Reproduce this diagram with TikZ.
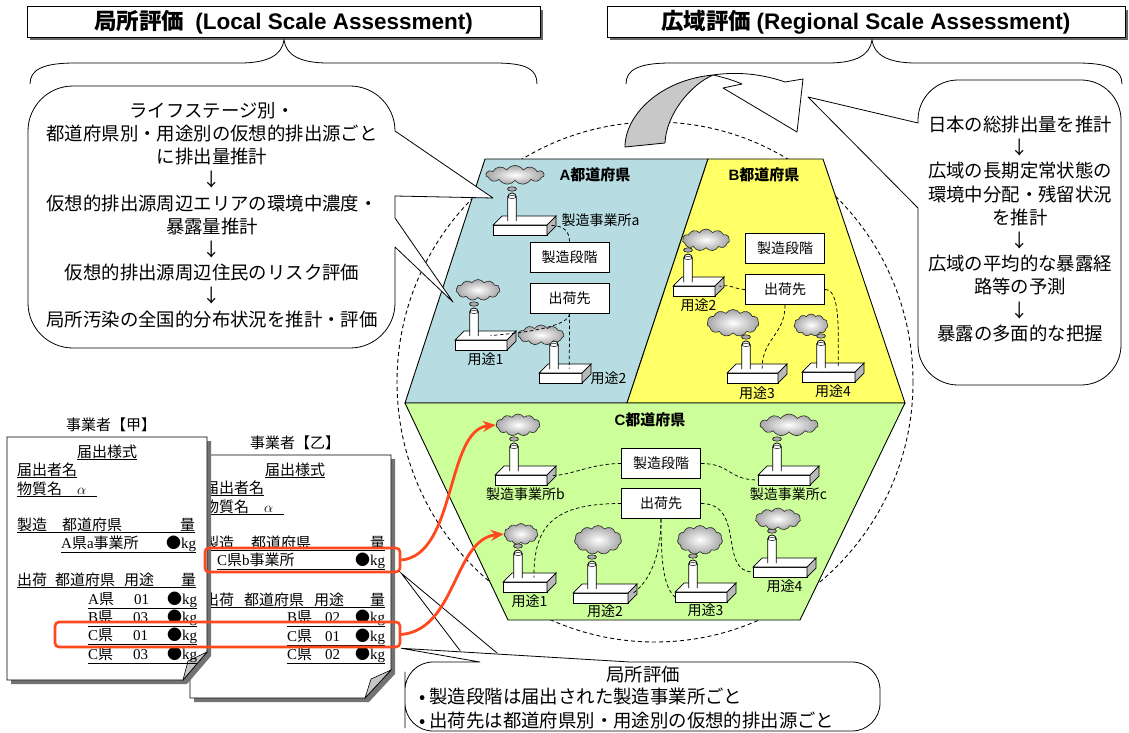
\documentclass[tikz,border=0pt]{standalone}
\usepackage{fontspec}
\setmainfont{Noto Sans CJK JP}
\newfontfamily\arialfont{Liberation Sans}
\newfontfamily\timesfont{Liberation Serif}
\usepackage{tikz}
\usetikzlibrary{positioning, shapes.symbols, arrows.meta, shadows}

\definecolor{prefA}{RGB}{183,221,226}
\definecolor{prefB}{RGB}{255,255,102}
\definecolor{prefC}{RGB}{204,255,153}
\definecolor{hlred}{RGB}{255,72,30}
\definecolor{bend}{RGB}{200,200,200}

\newcommand{\ltn}[1]{{\timesfont #1}}
\newcommand{\kg}{●\ltn{kg}}

% factory icon: block, stack, puff and smoke cloud
\tikzset{
  plant w/.store in=\plantw, plant w=54,
  stack x/.store in=\stackx, stack x=19,
  smoke dx/.store in=\smokedx, smoke dx=0,
  smoke dy/.store in=\smokedy, smoke dy=0,
  smoke w/.store in=\smokew, smoke w=48pt,
  smoke h/.store in=\smokeh, smoke h=22pt,
  smoke/.style={cloud, cloud puffs=11, cloud puff arc=115, aspect=2.2,
                draw=black!85, line width=0.6pt,
                inner color=white, outer color=gray!70, inner sep=0pt},
  pics/plant/.style={code={
    \draw[fill=white, line width=0.7pt] (0,0) rectangle (\plantw,-10);
    \draw[fill=white, line width=0.7pt] (0,-10) -- (\plantw,-10) -- (\plantw+9,-19) -- (9,-19) -- cycle;
    \draw[fill=gray!55, line width=0.7pt] (\plantw,0) -- (\plantw+9,-9) -- (\plantw+9,-19) -- (\plantw,-10) -- cycle;
    \draw[fill=white, line width=0.8pt, rounded corners=4pt]
      (\stackx-4.2,-14) -- (\stackx-4.2,-42) -- (\stackx+4.2,-42) -- (\stackx+4.2,-14);
    \draw[line width=0.5pt] (\stackx,-38) ellipse[x radius=4.2, y radius=1.5];
    \draw[fill=gray!65, line width=0.5pt] (\stackx,-46) ellipse[x radius=4.5, y radius=2.2];
    \node[smoke, minimum width=\smokew, minimum height=\smokeh] (-cloud)
      at (\stackx+\smokedx,-60+\smokedy) {};
    \coordinate (-e) at (\plantw+4.5,-9.5);
    \coordinate (-w) at (0,-5);
    \coordinate (-t) at ({0.6*\plantw+4.5},-14.5);
    \coordinate (-s) at ({(\plantw+9)/2},0);
  }},
}

\begin{document}
\begin{tikzpicture}[x=1pt, y=-1pt,
    titlebox/.style={draw, fill=white, line width=1pt, minimum height=26pt,
                     font=\fontsize{22.5}{26}\selectfont\bfseries,
                     drop shadow={fill=black!60, opacity=1, shadow xshift=3pt, shadow yshift=-3pt}},
    brace/.style={line width=0.8pt},
    callout/.style={draw, fill=white, line width=0.8pt, line join=round},
    note/.style={align=center, font=\fontsize{18.4}{23.2}\selectfont, inner sep=0pt},
    pref/.style={draw, line width=0.9pt},
    preflabel/.style={font=\fontsize{15}{17}\selectfont\bfseries, inner sep=0pt},
    stage/.style={draw, fill=white, line width=1pt, minimum width=79pt, minimum height=30pt,
                  font=\fontsize{14}{16}\selectfont},
    tag/.style={font=\fontsize{14}{16}\selectfont, inner sep=1pt},
    link/.style={dash pattern=on 3.5pt off 2.5pt, line width=0.75pt},
    area/.style={dash pattern=on 4pt off 3pt, line width=0.9pt},
    bendarrow/.style={draw, line width=0.8pt, line join=round},
    sheet/.style={draw, fill=white, line width=0.8pt},
    formtxt/.style={font=\fontsize{15}{17}\selectfont, inner sep=0pt, anchor=base west},
    formhead/.style={font=\fontsize{15}{17}\selectfont, inner sep=0pt},
    hl/.style={draw=hlred, line width=2.6pt, rounded corners=4pt, inner sep=0pt},
    hlarrow/.style={hlred, line width=2.8pt, -{Stealth[length=13pt,width=11pt]}},
  ]
  \path[use as bounding box, fill=white] (0,0) rectangle (1129,733);

  % regional area
  \draw[area] (655,382) ellipse[x radius=258, y radius=260];

  \draw[pref, fill=prefA] (485,159) -- (708,159) -- (627,403) -- (405,403) -- cycle;
  \draw[pref, fill=prefB] (708,159) -- (823,159) -- (905,403) -- (627,403) -- cycle;
  \draw[pref, fill=prefC] (405,403) -- (905,403) -- (800,620) -- (508,620) -- cycle;

  \node[preflabel] (lab-a) at (595,175) {{\arialfont A}都道府県};
  \node[preflabel] (lab-b) at (764,175) {{\arialfont B}都道府県};
  \node[preflabel] (lab-c) at (650,420) {{\arialfont C}都道府県};

  % stages
  \node[stage] (a-mfg) at (569.5,257) {製造段階};
  \node[stage] (a-ship) [below=10pt of a-mfg] {出荷先};
  \node[stage] (b-mfg) at (785,248.5) {製造段階};
  \node[stage] (b-ship) [below=10pt of b-mfg] {出荷先};
  \node[stage] (c-mfg) at (661,463.5) {製造段階};
  \node[stage] (c-ship) [below=9pt of c-mfg] {出荷先};

  % plants, prefecture A
  \pic[smoke dx=3, smoke w=58pt, smoke h=19pt] (pa) at (493,235) {plant};
  \pic[plant w=52, smoke dx=4, smoke w=44pt, smoke h=21pt] (pa1) at (455,350) {plant};
  \pic[plant w=43, stack x=15, smoke dx=-13, smoke dy=12, smoke w=46pt, smoke h=20pt] (pa2) at (539,383) {plant};
  % prefecture B
  \pic[plant w=42, stack x=15, smoke dx=18, smoke dy=4, smoke w=47pt, smoke h=22pt] (pb2) at (673,296) {plant};
  \pic[plant w=51, smoke dx=-13, smoke w=52pt, smoke h=27pt] (pb3) at (727,383) {plant};
  \pic[plant w=53, smoke dx=-10, smoke dy=3, smoke w=34pt, smoke h=22pt] (pb4) at (802,382) {plant};
  % prefecture C
  \pic[plant w=52, smoke dx=4, smoke w=44pt, smoke h=22pt] (pcb) at (495,485) {plant};
  \pic[plant w=52, smoke dx=12, smoke w=58pt, smoke h=22pt] (pcc) at (758,485) {plant};
  \pic[plant w=44, stack x=15, smoke dx=3, smoke dy=2, smoke w=34pt, smoke h=21pt] (pc1) at (503,592) {plant};
  \pic[plant w=55, smoke dx=6, smoke dy=-3, smoke w=47pt, smoke h=29pt] (pc2) at (573,603) {plant};
  \pic[plant w=52, stack x=18, smoke dx=7, smoke dy=-2, smoke w=45pt, smoke h=29pt] (pc3) at (675,602) {plant};
  \pic[plant w=54, smoke dx=6, smoke dy=2, smoke w=45pt, smoke h=22pt] (pc4) at (753,577) {plant};

  \node[tag, right=9pt of pa-e, yshift=5pt] (lab-pa) {製造事業所a};
  \node[tag, below=2pt of pa1-s] (lab-pa1) {用途1};
  \node[tag, right=3pt of pa2-e, yshift=-5pt] (lab-pa2) {用途2};
  \node[tag, below=2pt of pb2-s] (lab-pb2) {用途2};
  \node[tag, below=3pt of pb3-s] (lab-pb3) {用途3};
  \node[tag, below=2pt of pb4-s] (lab-pb4) {用途4};
  \node[tag, below=2pt of pcb-s] (lab-pcb) {製造事業所b};
  \node[tag, below=2pt of pcc-s] (lab-pcc) {製造事業所c};
  \node[tag, below=2pt of pc1-s] (lab-pc1) {用途1};
  \node[tag, below=1pt of pc2-s] (lab-pc2) {用途2};
  \node[tag, below=1pt of pc3-s] (lab-pc3) {用途3};
  \node[tag, below=2pt of pc4-s] (lab-pc4) {用途4};

  % stage links
  \draw[link] (pa-e) .. controls +(12,0) and +(0,-10) .. (a-mfg.north);
  \draw[link] (a-ship.south) .. controls +(0,12) and +(40,-3) .. (pa1-t);
  \draw[link] (a-ship.south) -- (pa2-t);
  \draw[link] (b-ship.west) .. controls +(-10,0) and +(10,-3) .. (pb2-e);
  \draw[link] (b-ship.south) .. controls +(0,30) and +(0,-30) .. (pb3-t);
  \draw[link] (b-ship.east) .. controls +(15,0) and +(0,-40) .. (pb4-t);
  \draw[link] (c-mfg.west) .. controls +(-30,0) and +(20,0) .. (pcb-e);
  \draw[link] (c-mfg.east) .. controls +(30,0) and +(-30,0) .. (pcc-w);
  \draw[link] (c-ship.west) .. controls +(-70,0) and +(0,-50) .. (pc1-t);
  \draw[link] (c-ship.south) .. controls +(0,40) and +(15,-10) .. (pc2-e);
  \draw[link] (c-ship.south) .. controls +(0,40) and +(-12,-10) .. (pc3-w);
  \draw[link] (c-ship.east) .. controls +(45,0) and +(-35,0) .. (pc4-w);

  % local -> regional
  \draw[bendarrow, fill=bend] (625,147) .. controls (625,115) and (660,80) .. (713,75)
    .. controls (690,85) and (666,115) .. (665,143) -- cycle;
  \draw[bendarrow, fill=white] (713,75) .. controls (740,71) and (765,75) .. (785,82)
    -- (803,79) -- (797,132) -- (723,88) -- (742,84)
    .. controls (733,80) and (722,77) .. (713,75) -- cycle;

  % callouts
  \draw[callout] (28,200) [rounded corners=45pt] -- (28,86) -- (395,86) [sharp corners]
    -- (395,131) -- (493,198) -- (395,196) -- (395,218) -- (453,302) -- (395,247)
    [rounded corners=45pt] -- (395,348) -- (28,348) -- cycle;
  \node[note] (local-steps) at (212,215) {ライフステージ別・\\都道府県別・用途別の仮想的排出源ごと\\に排出量推計\\↓\\仮想的排出源周辺エリアの環境中濃度・\\暴露量推計\\↓\\仮想的排出源周辺住民のリスク評価\\↓\\局所汚染の全国的分布状況を推計・評価};

  \draw[callout] (918,300) [rounded corners=40pt] -- (918,385) -- (1121,385) -- (1121,80)
    -- (918,80) [sharp corners] -- (918,123) -- (808,97) -- (918,208) -- cycle;
  \node[note] (region-steps) at (1020,229) {日本の総排出量を推計\\↓\\広域の長期定常状態の\\環境中分配・残留状況\\を推計\\↓\\広域の平均的な暴露経\\路等の予測\\↓\\暴露の多面的な把握};

  % titles
  \node[titlebox, minimum width=513pt] (title-local) at (283.5,22) {局所評価\hspace{0.5em}{\arialfont (Local Scale Assessment)}};
  \node[titlebox, minimum width=518pt] (title-region) at (866,22) {広域評価 {\arialfont (Regional Scale Assessment)}};
  \draw[brace] (30,84) .. controls (30,70) and (42,63) .. (75,63) -- (240,63)
    .. controls (268,63) and (282,55) .. (284,40) .. controls (286,55) and (300,63) .. (328,63)
    -- (495,63) .. controls (528,63) and (537,70) .. (537,84);
  \draw[brace] (626,84) .. controls (626,70) and (638,63) .. (671,63) -- (828,63)
    .. controls (856,63) and (870,55) .. (872,40) .. controls (874,55) and (888,63) .. (916,63)
    -- (1077,63) .. controls (1110,63) and (1122,70) .. (1122,84);

  % notification form, company B
  \fill[black!55] (194,459) -- (395,459) -- (395,674) -- (369,702) -- (194,702) -- cycle;
  \draw[sheet] (190,455) -- (391,455) -- (391,670) -- (365,698) -- (190,698) -- cycle;
  \draw[fill=gray!45, line width=0.6pt] (365,698) -- (391,670) -- (371,679) -- cycle;
  \node[formhead] (otsu-head) at (295,443) {事業者【乙】};
  \node[formtxt, anchor=base] (otsu-f0) at (295,475) {\underline{届出様式}};
  \node[formtxt] (otsu-f1) at (204,493) {\underline{届出者名}};
  \node[formtxt] (otsu-f2) at (204,512) {\underline{\makebox[80pt][l]{物質名\hspace{15pt}$\alpha$}}};
  \node[formtxt] (otsu-f3) at (204,548) {\underline{\makebox[181pt][l]{製造\hspace{17pt}都道府県\hfill 量}}};
  \node[formtxt] (otsu-f4) at (217,565) {\underline{\makebox[168pt][l]{\ltn{C}県\ltn{b}事業所\hfill\kg}}};
  \node[formtxt] (otsu-f5) at (204,605) {\underline{\makebox[181pt][l]{出荷\hspace{10pt}都道府県\hspace{10pt}用途\hfill 量}}};
  \node[formtxt] (otsu-r1) at (287,622) {\underline{\makebox[98pt][l]{\ltn{B}県\hspace{13pt}\ltn{02}\hfill\kg}}};
  \node[formtxt] (otsu-r2) at (287,641) {\underline{\makebox[98pt][l]{\ltn{C}県\hspace{13pt}\ltn{01}\hfill\kg}}};
  \node[formtxt] (otsu-r3) at (287,659) {\underline{\makebox[98pt][l]{\ltn{C}県\hspace{13pt}\ltn{02}\hfill\kg}}};

  % notification form, company A
  \fill[black!55] (11,441) -- (211,441) -- (211,656) -- (187,684) -- (11,684) -- cycle;
  \draw[sheet] (7,437) -- (207,437) -- (207,652) -- (183,680) -- (7,680) -- cycle;
  \draw[fill=gray!45, line width=0.6pt] (183,680) -- (207,652) -- (188,661) -- cycle;
  \node[formhead] (koh-head) at (111,425) {事業者【甲】};
  \node[formtxt, anchor=base] (koh-f0) at (107,457) {\underline{届出様式}};
  \node[formtxt] (koh-f1) at (17,475) {\underline{届出者名}};
  \node[formtxt] (koh-f2) at (17,494) {\underline{\makebox[80pt][l]{物質名\hspace{15pt}$\alpha$}}};
  \node[formtxt] (koh-f3) at (17,530) {\underline{\makebox[178pt][l]{製造\hspace{15pt}都道府県\hfill 量}}};
  \node[formtxt] (koh-f4) at (61,548) {\underline{\makebox[135pt][l]{\ltn{A}県\ltn{a}事業所\hfill\kg}}};
  \node[formtxt] (koh-f5) at (17,585) {\underline{\makebox[179pt][l]{出荷\hspace{8pt}都道府県\hspace{9pt}用途\hfill 量}}};
  \node[formtxt] (koh-r1) at (88,604) {\underline{\makebox[109pt][l]{\ltn{A}県\hspace{20pt}\ltn{01}\hfill\kg}}};
  \node[formtxt] (koh-r2) at (88,622) {\underline{\makebox[109pt][l]{\ltn{B}県\hspace{20pt}\ltn{03}\hfill\kg}}};
  \node[formtxt] (koh-r3) at (88,640) {\underline{\makebox[109pt][l]{\ltn{C}県\hspace{20pt}\ltn{01}\hfill\kg}}};
  \node[formtxt] (koh-r4) at (88,659) {\underline{\makebox[109pt][l]{\ltn{C}県\hspace{20pt}\ltn{03}\hfill\kg}}};

  % highlighted entries
  \node[hl, minimum width=195pt, minimum height=24pt] (hl-b) at (302.5,560) {};
  \node[hl, minimum width=345pt, minimum height=25pt] (hl-c) at (227.5,634.5) {};

  % local assessment note
  \draw[callout] (405,700) [rounded corners=28pt] -- (405,662) [sharp corners] -- (480,662)
    -- (hl-c.south east) -- (630,662) [rounded corners=28pt] -- (880,662) -- (880,731)
    -- (405,731) -- cycle;
  \coordinate (hook-1) at (460,650.5);
  \coordinate (hook-2) at (497,653);
  \draw[line width=0.8pt] (hook-1) -- (hl-b.south east) -- (hook-2);
  \node[note] (local-head) at (643,675) {局所評価};
  \node[note, align=left, anchor=west] (local-rules) at (419,708.5) {• 製造段階は届出された製造事業所ごと\\• 出荷先は都道府県別・用途別の仮想的排出源ごと};

  \draw[hlarrow] (hl-b.east) .. controls +(55,-5) and +(-50,5) .. (pcb-cloud.west);
  \draw[hlarrow] (hl-c.east) .. controls +(55,-5) and +(-50,5) .. (pc1-cloud.west);
\end{tikzpicture}
\end{document}
